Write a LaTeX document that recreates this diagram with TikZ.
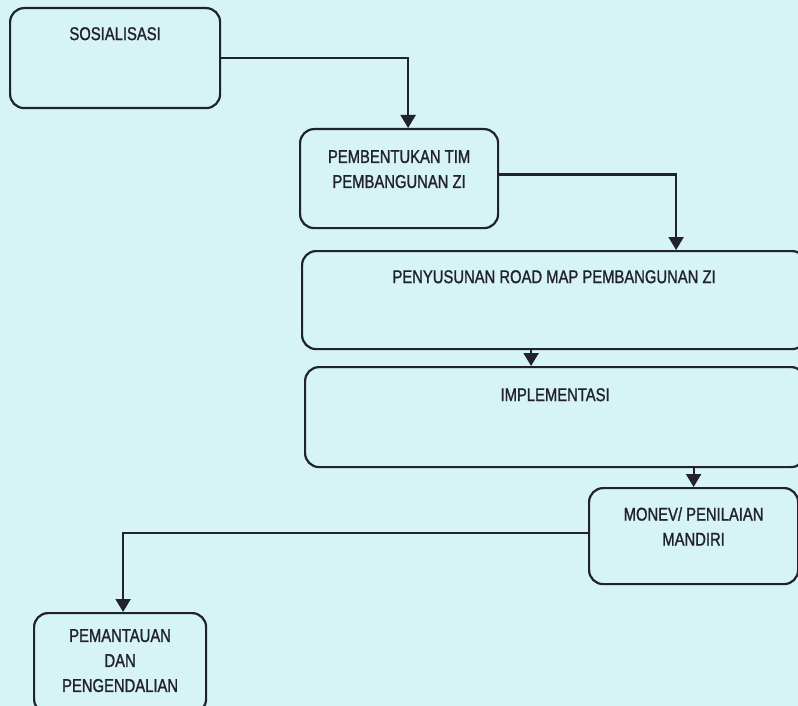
\documentclass[tikz,border=0pt]{standalone}
\usepackage{fontspec}
\setmainfont[FakeStretch=0.8, FakeBold=1.2]{Liberation Sans}
\usetikzlibrary{arrows.meta}
\definecolor{paper}{RGB}{214,243,245}
\definecolor{ink}{RGB}{34,34,42}
\begin{document}
\begin{tikzpicture}[x=1pt, y=-1pt,
    box/.style={draw=ink, line width=2.2pt, rounded corners=14pt, anchor=north west,
                inner sep=0pt, fill=paper},
    txt/.style={anchor=north, inner sep=0pt, yshift=-20pt, align=center, text=ink,
                font=\fontsize{18.5}{25}\selectfont},
    flow/.style={draw=ink, line width=2.2pt, -{Triangle[width=15pt,length=13pt]}}]
    \fill[paper] (0,0) rectangle (798,706);
    \clip (0,0) rectangle (798,706);
    \node[box, minimum width=210pt, minimum height=100pt,
          label={[txt]north:SOSIALISASI}] (sos) at (9,7) {};
    \node[box, minimum width=198pt, minimum height=99pt,
          label={[txt, yshift=-2pt]north:PEMBENTUKAN TIM\\PEMBANGUNAN ZI}] (tim) at (299,128) {};
    \node[box, minimum width=504pt, minimum height=98pt,
          label={[txt]north:PENYUSUNAN ROAD MAP PEMBANGUNAN ZI}] (road) at (301,250) {};
    \node[box, minimum width=500pt, minimum height=100pt,
          label={[txt, yshift=-2pt]north:IMPLEMENTASI}] (impl) at (304,366) {};
    \node[box, minimum width=209pt, minimum height=96pt,
          label={[txt]north:MONEV/ PENILAIAN\\MANDIRI}] (monev) at (588,487) {};
    \node[box, minimum width=172pt, minimum height=100pt,
          label={[txt, yshift=3pt]north:PEMANTAUAN\\DAN\\PENGENDALIAN}] (pem) at (33,612) {};
    % alur
    \draw[flow] (sos.east) -| ([xshift=9pt]tim.north);
    \draw[flow] ([yshift=4pt]tim.east) -| ([xshift=122pt]road.north);
    \draw[flow] ([xshift=-23pt]road.south) -- ([xshift=-23pt]road.south |- impl.north);
    \draw[flow] (monev.north |- impl.south) -- (monev.north);
    \draw[flow] ([yshift=3pt]monev.west) -| ([xshift=3pt]pem.north);
\end{tikzpicture}
\end{document}
